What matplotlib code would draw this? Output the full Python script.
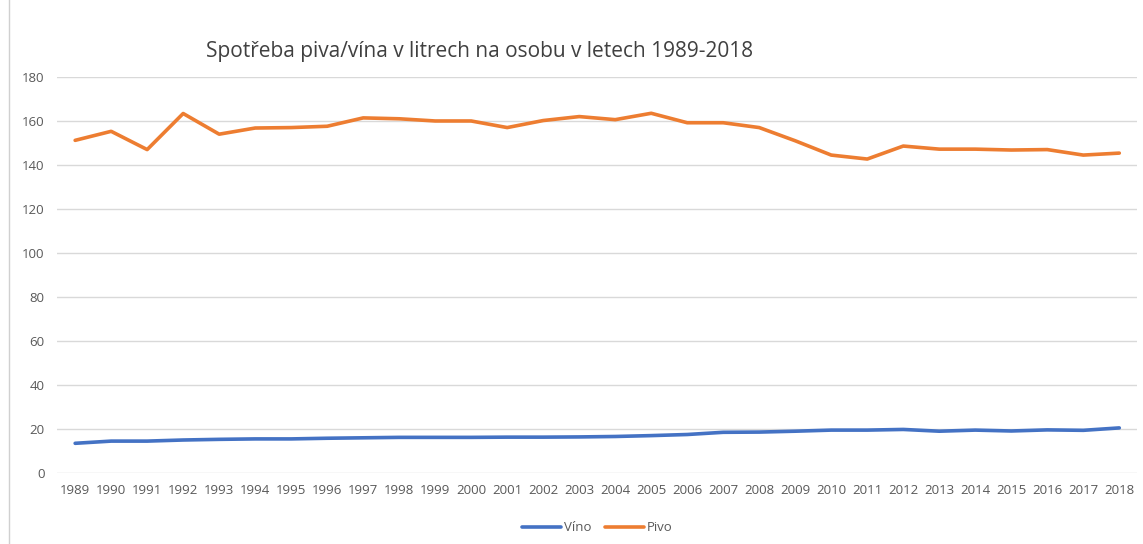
import numpy as np
import matplotlib
matplotlib.use("Agg")
import matplotlib.pyplot as plt

# data
roky = [str(r) for r in range(1989, 2019)]
vino = [13.5, 14.5, 14.5, 15.0, 15.3, 15.5, 15.5, 15.8, 16.0, 16.2,
        16.2, 16.2, 16.3, 16.3, 16.4, 16.6, 17.0, 17.5, 18.5, 18.6,
        19.0, 19.5, 19.5, 19.8, 19.0, 19.5, 19.1, 19.6, 19.4, 20.5]
pivo = [151.2, 155.3, 147.0, 163.4, 154.0, 156.8, 157.0, 157.6, 161.4, 161.0,
        160.0, 160.0, 157.0, 160.2, 162.0, 160.6, 163.5, 159.2, 159.2, 157.0,
        151.0, 144.5, 142.7, 148.6, 147.2, 147.2, 146.8, 147.0, 144.5, 145.4]
y_ticks = list(range(0, 181, 20))

plt.rcParams['font.family'] = ['Open Sans', 'DejaVu Sans']
seda = '#595959'

fig = plt.figure(figsize=(11.43, 5.44), dpi=100)
ax = fig.add_axes([0.05, 0.1305, 0.945, 0.728])

x = np.arange(len(roky))
ax.plot(x, vino, color='#4472C4', lw=2.6, label='Víno', solid_capstyle='round')
ax.plot(x, pivo, color='#ED7D31', lw=2.6, label='Pivo', solid_capstyle='round')

ax.set_xlim(-0.5, len(roky) - 0.5)
ax.set_ylim(0, 180)
ax.set_yticks(y_ticks)
ax.set_xticks(x)
ax.set_xticklabels(roky)
ax.grid(axis='y', color='#D9D9D9', lw=1)
ax.set_axisbelow(True)
for s in ax.spines.values():
    s.set_visible(False)
ax.tick_params(length=0, labelsize=9.5, colors=seda, pad=8)
ax.tick_params(axis='y', pad=9)

fig.text(0.42, 0.905, 'Spotřeba piva/vína v litrech na osobu v letech 1989-2018',
         ha='center', va='center', fontsize=15, color='#404040')

ax.legend(loc='lower center', bbox_to_anchor=(0.5, -0.185), ncol=2, frameon=False,
          fontsize=9.5, labelcolor=seda, handlelength=3, handletextpad=0.2,
          columnspacing=1.0)

# frame of the chart area
fig.add_artist(plt.Line2D([0.008, 0.008], [0, 1], color='#D0D0D0', lw=1,
                          transform=fig.transFigure))

fig.savefig('out.png', dpi=100)
